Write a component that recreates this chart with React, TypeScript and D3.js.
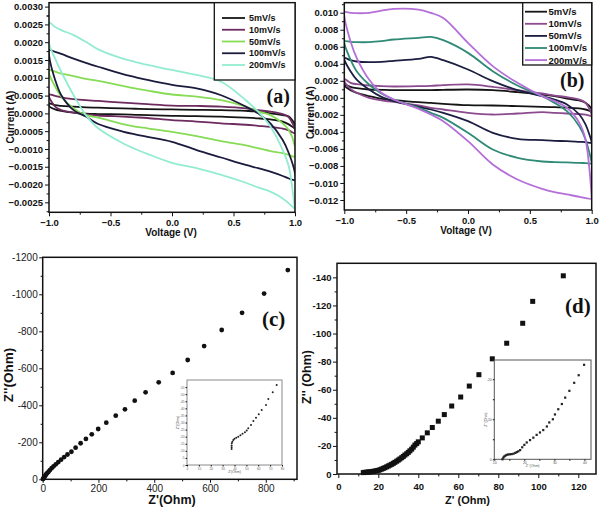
import React, { useEffect, useRef } from "react";
import * as d3 from "d3";

// ---------- data ----------
const scanRates = ["5mV/s", "10mV/s", "50mV/s", "100mV/s", "200mV/s"];
const voltageGrid = [-1, -0.95, -0.9, -0.8, -0.7, -0.6, -0.4, -0.3, -0.2, 0, 0.2, 0.4, 0.6, 0.7, 0.8, 0.9, 0.95, 1];

// panel (a): forward (upper) and reverse (lower) branch currents in A, on voltageGrid
const aFwd5 = [0.00028, 0.00023, 0.00021, 0.00019, 0.00017, 0.00016, 0.00014, 0.00013, 0.00012, 0.00011, 0.0001, 0.00009, 0.00007, 0.00005, 0.0, -0.00005, -0.00009, -0.00033];
const aRev5 = [0.00021, 0.00011, 0.00007, 0.00002, -0.00001, -0.00002, -0.00003, -0.00004, -0.00005, -0.00007, -0.00008, -0.00009, -0.00012, -0.00014, -0.00017, -0.00023, -0.00031, -0.00042];
const aFwd10 = [0.00053, 0.00049, 0.00045, 0.0004, 0.00037, 0.00035, 0.0003, 0.00028, 0.00026, 0.00022, 0.00021, 0.00019, 0.00014, 0.00009, 0.00005, -0.00002, -0.00011, -0.00047];
const aRev10 = [0.00047, 0.00019, 0.00009, 0.00002, -0.00003, -0.00006, -0.00009, -0.00011, -0.00013, -0.00019, -0.00023, -0.00028, -0.00032, -0.00035, -0.00038, -0.00043, -0.00048, -0.00056];
const aFwd50 = [0.00122, 0.00117, 0.00112, 0.00105, 0.00097, 0.00091, 0.00077, 0.0007, 0.00064, 0.00053, 0.00047, 0.00037, 0.00019, 0.00005, -0.00005, -0.00028, -0.00047, -0.00094];
const aRev50 = [0.00112, 0.00075, 0.00047, 0.00014, -0.00005, -0.00012, -0.0003, -0.00037, -0.00042, -0.00052, -0.00064, -0.00078, -0.0009, -0.00098, -0.00106, -0.00112, -0.00117, -0.00122];
const aFwd100 = [0.00178, 0.00173, 0.00167, 0.00154, 0.00142, 0.00131, 0.0011, 0.00102, 0.00094, 0.0008, 0.0007, 0.00051, 0.00019, 0.0, -0.00028, -0.00075, -0.00112, -0.00169];
const aRev100 = [0.00164, 0.00094, 0.00051, 0.00009, -0.00009, -0.0003, -0.00051, -0.00059, -0.00066, -0.0008, -0.00103, -0.00124, -0.00145, -0.00154, -0.00164, -0.00176, -0.00183, -0.00187];
const aFwd200 = [0.00255, 0.00243, 0.00234, 0.0022, 0.00201, 0.0018, 0.00154, 0.00145, 0.00136, 0.00122, 0.00108, 0.00089, 0.00037, 0.00005, -0.00037, -0.00103, -0.0015, -0.00272];
const aRev200 = [0.00197, 0.00154, 0.00117, 0.00051, -0.00005, -0.00042, -0.00084, -0.001, -0.00114, -0.00139, -0.00154, -0.00173, -0.00195, -0.00208, -0.0022, -0.00239, -0.00253, -0.00271];

// panel (b)
const bFwd5 = [0.00157, 0.00129, 0.00114, 0.00098, 0.00094, 0.0009, 0.0009, 0.0009, 0.00094, 0.00098, 0.0009, 0.00067, 0.00039, 0.0002, -0.00008, -0.00031, -0.00059, -0.00137];
const bRev5 = [0.00145, 0.0009, 0.00059, 0.0002, -0.00012, -0.00027, -0.00051, -0.00059, -0.0007, -0.00086, -0.0009, -0.00098, -0.00106, -0.0011, -0.00114, -0.00125, -0.00137, -0.00157];
const bFwd10 = [0.00223, 0.00176, 0.0016, 0.00145, 0.00137, 0.00133, 0.00137, 0.00141, 0.00149, 0.00157, 0.00129, 0.0009, 0.00051, 0.00027, 0.00008, -0.0002, -0.00059, -0.00196];
const bRev10 = [0.00196, 0.00106, 0.00059, 0.0, -0.00031, -0.00047, -0.0009, -0.00117, -0.00137, -0.00176, -0.00196, -0.00184, -0.00168, -0.00176, -0.00184, -0.00192, -0.00196, -0.00215];
const bFwd50 = [0.0047, 0.00442, 0.00427, 0.00419, 0.00423, 0.00434, 0.00458, 0.00481, 0.00442, 0.00333, 0.00196, 0.0009, 0.0002, -0.0002, -0.00078, -0.00196, -0.00313, -0.00521];
const bRev50 = [0.0045, 0.00313, 0.00215, 0.00098, 0.00012, -0.00039, -0.00106, -0.00137, -0.00176, -0.00274, -0.00411, -0.00481, -0.00497, -0.00505, -0.00509, -0.00517, -0.00521, -0.00528];
const bFwd100 = [0.00665, 0.00658, 0.00654, 0.00654, 0.00665, 0.00685, 0.00705, 0.00716, 0.00677, 0.00528, 0.00313, 0.00145, 0.0002, -0.00059, -0.00157, -0.00333, -0.00489, -0.00763];
const bRev100 = [0.00646, 0.0045, 0.00313, 0.00157, 0.00051, -0.0002, -0.00117, -0.00176, -0.00235, -0.00411, -0.00607, -0.00705, -0.00748, -0.00755, -0.00759, -0.00763, -0.00767, -0.00771];
const bFwd200 = [0.01006, 0.00998, 0.00994, 0.00998, 0.01025, 0.01045, 0.01037, 0.00998, 0.00939, 0.00646, 0.00372, 0.00176, 0.0002, -0.00039, -0.00117, -0.00294, -0.00489, -0.01174];
const bRev200 = [0.00959, 0.00665, 0.0047, 0.00215, 0.00059, -0.0002, -0.00129, -0.00196, -0.00274, -0.00509, -0.00783, -0.00959, -0.01069, -0.01108, -0.01135, -0.01162, -0.01178, -0.01186];

// panel (c) Nyquist: Z' and -Z'' (Ohm)
const cZre = [1, 2, 4, 6, 9, 12, 16, 21, 26, 32, 39, 47, 56, 66, 77, 89, 103, 118, 136, 155, 176, 199, 228, 262, 295, 330, 369, 416, 466, 520, 579, 642, 715, 794, 879];
const cZim = [1, 4, 8, 13, 19, 26, 33, 41, 50, 60, 70, 81, 93, 106, 120, 134, 149, 171, 195, 218, 243, 272, 306, 344, 378, 425, 470, 524, 575, 645, 720, 807, 900, 1004, 1131];
const ciZre = [37.6, 37.6, 37.6, 37.7, 38.2, 39, 40, 41.5, 43.2, 45, 46.8, 48.8, 50.3, 51.6, 53.9, 55.9, 58.1, 60.4, 62.9, 66.5, 68.5, 72.2, 75.5];
const ciZim = [11.3, 12.5, 13.8, 15.3, 16.5, 17.6, 18.5, 19.3, 20, 21, 22, 23.1, 24.4, 25.9, 28.3, 31.1, 33.4, 35.8, 38.8, 42.4, 46.6, 51.3, 56.5];

// panel (d)
const dZre = [12.5, 13.3, 14.2, 15, 15.8, 16.7, 17.5, 18.3, 19.2, 20, 20.8, 21.7, 22.5, 23.3, 24.2, 25, 25.8, 26.7, 27.5, 28.3, 29.2, 30, 30.8, 31.7, 32.5, 33.3, 34.2, 35, 35.8, 36.7, 37.5, 38.3, 39.2, 40, 42, 44.5, 47, 50, 53, 56.7, 61.2, 65.5, 70.3, 77, 84.2, 92.2, 97.2, 112.5];
const dZim = [1, 1.2, 1.3, 1.4, 1.55, 1.7, 1.9, 2.1, 2.35, 2.6, 3, 3.5, 4, 4.5, 5.1, 5.7, 6.3, 6.9, 7.6, 8.3, 9.1, 9.9, 10.7, 11.6, 12.5, 13.5, 14.4, 15.4, 16.5, 17.7, 19.1, 20.6, 21.7, 22.9, 25.7, 29.3, 33.1, 37.6, 42.3, 48.4, 54.8, 62.6, 70.7, 82, 93.1, 107.3, 122.9, 141.1];
const diZre = [12.7, 13.0, 13.3, 13.7, 14.1, 14.6, 15.2, 15.8, 16.4, 17, 17.5, 18, 18.6, 19.3, 20, 20.8, 21.9, 23, 24.1, 25.2, 26.3, 27.5, 28.3, 29.5, 30.2, 31.3, 32.5, 33.6, 35, 36.6, 38.1, 39.9];
const diZim = [0, 0.4, 0.7, 0.9, 1.1, 1.2, 1.25, 1.3, 1.4, 1.6, 1.8, 2, 2.3, 3, 3.6, 4.2, 4.8, 5.4, 6.1, 6.7, 7.3, 8.2, 9.2, 10, 11.2, 12.5, 13.8, 15.4, 17.1, 19.1, 21, 23.6];

// tick labels
const vTicks = [-1, -0.5, 0, 0.5, 1];
const aCurrentTicks = [-0.0025, -0.002, -0.0015, -0.001, -0.0005, 0, 0.0005, 0.001, 0.0015, 0.002, 0.0025, 0.003];
const bCurrentTicks = [-0.012, -0.01, -0.008, -0.006, -0.004, -0.002, 0, 0.002, 0.004, 0.006, 0.008, 0.01];
const cReTicks = [0, 200, 400, 600, 800];
const cImTicks = [0, 200, 400, 600, 800, 1000, 1200];
const dReTicks = [0, 20, 40, 60, 80, 100, 120];
const dImTicks = [0, 20, 40, 60, 80, 100, 120, 140];

const colorsA = ["#151515", "#6d2b5f", "#86dc55", "#1b1b3d", "#93ecd2"];
const colorsB = ["#151515", "#8c4b8e", "#1b1e40", "#2f8a76", "#b46fd8"];

const SANS = "'Liberation Sans', Arial, Helvetica, sans-serif";
const SERIF = "'Liberation Serif', 'Times New Roman', serif";

type Box = { l: number; r: number; t: number; b: number };

function styleAxis(g: any, size: number, weight: string, fill = "#111") {
  g.select(".domain").remove();
  g.selectAll("line").attr("stroke", "#111").attr("stroke-width", 1);
  g.selectAll("text").attr("font-family", SANS).attr("font-size", size).attr("font-weight", weight).attr("fill", fill);
}

function drawAxes(root: any, box: Box, x: any, y: any, o: any) {
  const bx = root.append("g").attr("transform", `translate(0,${box.b})`)
    .call(d3.axisBottom(x).tickValues(o.xMajor).tickFormat(o.xFmt).tickSize(o.tick).tickPadding(o.xPad));
  styleAxis(bx, o.size, o.weight, o.fill);
  const bxm = root.append("g").attr("transform", `translate(0,${box.b})`)
    .call(d3.axisBottom(x).tickValues(o.xMinor).tickFormat(() => "").tickSize(o.tick * 0.6));
  styleAxis(bxm, o.size, o.weight);
  const ly = root.append("g").attr("transform", `translate(${box.l},0)`)
    .call(d3.axisLeft(y).tickValues(o.yMajor).tickFormat(o.yFmt).tickSize(o.tick).tickPadding(o.yPad));
  styleAxis(ly, o.size, o.weight, o.fill);
  const lym = root.append("g").attr("transform", `translate(${box.l},0)`)
    .call(d3.axisLeft(y).tickValues(o.yMinor).tickFormat(() => "").tickSize(o.tick * 0.6));
  styleAxis(lym, o.size, o.weight);
  root.append("rect").attr("x", box.l).attr("y", box.t).attr("width", box.r - box.l).attr("height", box.b - box.t)
    .attr("fill", "none").attr("stroke", o.frame || "#111").attr("stroke-width", o.frameW || 1.5);
}

function loop(fwd: number[], rev: number[]) {
  const pts: [number, number][] = voltageGrid.map((v, i) => [v, fwd[i]] as [number, number])
    .concat(voltageGrid.map((v, i) => [v, rev[i]] as [number, number]).reverse());
  return pts.filter((p, i) => i === 0 || p[0] !== pts[i - 1][0] || p[1] !== pts[i - 1][1]);
}

export default function App() {
  const ref = useRef<SVGSVGElement>(null);
  useEffect(() => {
    const svg = d3.select(ref.current);
    svg.selectAll("*").remove();
    svg.append("rect").attr("width", 600).attr("height", 509).attr("fill", "#fff");

    // ---------- CV panels ----------
    const cvPanels = [
      {
        id: "a", box: { l: 49, r: 295, t: 2.7, b: 212.3 }, yDom: [-0.00278, 0.00311], yMajor: aCurrentTicks,
        yMinor: aCurrentTicks.map((v) => v - 0.00025).concat([0.00275]), yFmt: d3.format(".4f"),
        fwd: [aFwd5, aFwd10, aFwd50, aFwd100, aFwd200], rev: [aRev5, aRev10, aRev50, aRev100, aRev200], colors: colorsA,
        legend: { x0: 214.3, y1: 80, y0: 18, step: 11.75, lx0: 222, lx1: 245, tx: 249, fs: 9 },
        label: { x: 266.5, y: 103, fs: 20, t: "(a)" },
        xTitle: { x: 171, y: 235.5 }, yTitle: { x: 14, y: 117 },
      },
      {
        id: "b", box: { l: 344.3, r: 591.7, t: 2.7, b: 210 }, yDom: [-0.013175, 0.011175], yMajor: bCurrentTicks,
        yMinor: bCurrentTicks.map((v) => v + 0.001), yFmt: d3.format(".3f"),
        fwd: [bFwd5, bFwd10, bFwd50, bFwd100, bFwd200], rev: [bRev5, bRev10, bRev50, bRev100, bRev200], colors: colorsB,
        legend: { x0: 522.7, y1: 65, y0: 11.7, step: 12.1, lx0: 525, lx1: 547, tx: 548.5, fs: 9.5 },
        label: { x: 560, y: 87, fs: 20, t: "(b)" },
        xTitle: { x: 466, y: 234 }, yTitle: { x: 314, y: 112.5 },
      },
    ];

    cvPanels.forEach((p) => {
      const g = svg.append("g");
      const x = d3.scaleLinear().domain([-1, 1]).range([p.box.l, p.box.r]);
      const y = d3.scaleLinear().domain(p.yDom).range([p.box.b, p.box.t]);
      const clipId = "clip-" + p.id;
      g.append("clipPath").attr("id", clipId).append("rect")
        .attr("x", p.box.l).attr("y", p.box.t).attr("width", p.box.r - p.box.l).attr("height", p.box.b - p.box.t);
      const line = d3.line<[number, number]>().x((d) => x(d[0])).y((d) => y(d[1]))
        .curve(d3.curveCatmullRomClosed.alpha(0.5));
      const lg = g.append("g").attr("clip-path", `url(#${clipId})`);
      p.fwd.forEach((f, i) => {
        lg.append("path").attr("d", line(loop(f, p.rev[i])) as string).attr("fill", "none")
          .attr("stroke", p.colors[i]).attr("stroke-width", 1.8).attr("stroke-linejoin", "round");
      });
      drawAxes(g, p.box, x, y, {
        xMajor: vTicks, xMinor: [-0.75, -0.25, 0.25, 0.75], xFmt: d3.format(".1f"),
        yMajor: p.yMajor, yMinor: p.yMinor.filter((v: number) => v > p.yDom[0] && v < p.yDom[1]), yFmt: p.yFmt,
        tick: 4, xPad: 3, yPad: 2, size: 9.5, weight: "bold",
      });
      // legend
      const L = p.legend;
      g.append("rect").attr("x", L.x0).attr("y", p.box.t).attr("width", p.box.r - L.x0).attr("height", L.y1 - p.box.t)
        .attr("fill", "#fff").attr("stroke", "#111").attr("stroke-width", 1.3);
      scanRates.forEach((s, i) => {
        const yy = L.y0 + i * L.step;
        g.append("line").attr("x1", L.lx0).attr("x2", L.lx1).attr("y1", yy).attr("y2", yy)
          .attr("stroke", p.colors[i]).attr("stroke-width", 1.8);
        g.append("text").attr("x", L.tx).attr("y", yy).attr("dy", "0.36em").text(s)
          .attr("font-family", SANS).attr("font-size", L.fs).attr("font-weight", "bold").attr("fill", "#111");
      });
      g.append("text").attr("x", p.label.x).attr("y", p.label.y).text(p.label.t)
        .attr("font-family", SERIF).attr("font-size", p.label.fs).attr("font-weight", "bold").attr("fill", "#111");
      g.append("text").attr("x", p.xTitle.x).attr("y", p.xTitle.y).attr("text-anchor", "middle").text("Voltage (V)")
        .attr("font-family", SANS).attr("font-size", 10).attr("font-weight", "bold").attr("fill", "#111");
      g.append("text").attr("transform", `translate(${p.yTitle.x},${p.yTitle.y}) rotate(-90)`).attr("text-anchor", "middle")
        .text("Current (A)").attr("font-family", SANS).attr("font-size", 10).attr("font-weight", "bold").attr("fill", "#111");
    });

    // ---------- panel (c) ----------
    {
      const box = { l: 42.7, r: 297, t: 257.3, b: 479.3 };
      const g = svg.append("g");
      const x = d3.scaleLinear().domain([0, 912]).range([box.l, box.r]);
      const y = d3.scaleLinear().domain([0, 1200]).range([box.b, box.t]);
      const neg = (d: any) => (d === 0 ? "0" : "-" + d);
      drawAxes(g, box, x, y, {
        xMajor: cReTicks, xMinor: [100, 300, 500, 700, 900], xFmt: (d: any) => String(d),
        yMajor: cImTicks, yMinor: [100, 300, 500, 700, 900, 1100], yFmt: neg,
        tick: 3.5, xPad: 2, yPad: 1.5, size: 10, weight: "normal", fill: "#222",
      });
      g.selectAll(null).data(cZre).enter().append("circle")
        .attr("cx", (d) => x(d)).attr("cy", (_d, i) => y(cZim[i])).attr("r", 2.4).attr("fill", "#111");
      // inset
      const ib = { l: 187, r: 282, t: 380, b: 465 };
      const xi = d3.scaleLinear().domain([0, 80]).range([ib.l, ib.r]);
      const yi = d3.scaleLinear().domain([0, 60]).range([ib.b, ib.t]);
      g.append("rect").attr("x", ib.l).attr("y", ib.t).attr("width", ib.r - ib.l).attr("height", ib.b - ib.t)
        .attr("fill", "#fff").attr("stroke", "#8a8a8a").attr("stroke-width", 1);
      const ixa = g.append("g").attr("transform", `translate(0,${ib.b})`)
        .call(d3.axisBottom(xi).tickValues(d3.range(0, 81, 10)).tickSize(1.5).tickPadding(1).tickFormat((d: any) => String(d)));
      styleAxis(ixa, 3.2, "normal", "#666");
      const iya = g.append("g").attr("transform", `translate(${ib.l},0)`)
        .call(d3.axisLeft(yi).tickValues(d3.range(0, 56, 5)).tickSize(1.5).tickPadding(1).tickFormat((d: any) => (d === 0 ? "0" : "-" + d)));
      styleAxis(iya, 3.2, "normal", "#666");
      g.selectAll(".ci").data(ciZre).enter().append("circle")
        .attr("cx", (d) => xi(d)).attr("cy", (_d, i) => yi(ciZim[i])).attr("r", 1).attr("fill", "#222");
      g.append("text").attr("x", (ib.l + ib.r) / 2).attr("y", ib.b + 8).attr("text-anchor", "middle").text("Z'(Ohm)")
        .attr("font-family", SANS).attr("font-size", 3.5).attr("fill", "#555");
      g.append("text").attr("transform", `translate(${ib.l - 8},${(ib.t + ib.b) / 2}) rotate(-90)`).attr("text-anchor", "middle")
        .text("Z''(Ohm)").attr("font-family", SANS).attr("font-size", 3.5).attr("fill", "#555");
      g.append("text").attr("x", 262).attr("y", 326).text("(c)")
        .attr("font-family", SERIF).attr("font-size", 21).attr("font-weight", "bold").attr("fill", "#111");
      g.append("text").attr("x", 172).attr("y", 504).attr("text-anchor", "middle").text("Z'(Ohm)")
        .attr("font-family", SANS).attr("font-size", 12.5).attr("font-weight", "bold").attr("fill", "#111");
      g.append("text").attr("transform", `translate(13,375) rotate(-90)`).attr("text-anchor", "middle")
        .text("Z''(Ohm)").attr("font-family", SANS).attr("font-size", 13.5).attr("font-weight", "bold").attr("fill", "#111");
    }

    // ---------- panel (d) ----------
    {
      const box = { l: 337, r: 596, t: 263.3, b: 474 };
      const g = svg.append("g");
      const x = d3.scaleLinear().domain([-0.65, 128.85]).range([box.l, box.r]);
      const y = d3.scaleLinear().domain([0, 150]).range([box.b, box.t]);
      const neg = (d: any) => (d === 0 ? "0" : "-" + d);
      drawAxes(g, box, x, y, {
        xMajor: dReTicks, xMinor: [10, 30, 50, 70, 90, 110], xFmt: (d: any) => String(d),
        yMajor: dImTicks, yMinor: [10, 30, 50, 70, 90, 110, 130], yFmt: neg,
        tick: 4, xPad: 5, yPad: 1.5, size: 9.5, weight: "bold",
      });
      g.selectAll(null).data(dZre).enter().append("rect")
        .attr("x", (d) => x(d) - 2.5).attr("y", (_d, i) => y(dZim[i]) - 2.5).attr("width", 5).attr("height", 5).attr("fill", "#111");
      // inset
      const ib = { l: 494.3, r: 591, t: 360, b: 459.3 };
      const xi = d3.scaleLinear().domain([10, 42.2]).range([ib.l, ib.r]);
      const yi = d3.scaleLinear().domain([0, 24.8]).range([ib.b, ib.t]);
      g.append("rect").attr("x", ib.l).attr("y", ib.t).attr("width", ib.r - ib.l).attr("height", ib.b - ib.t)
        .attr("fill", "#fff").attr("stroke", "#555").attr("stroke-width", 1);
      const ixa = g.append("g").attr("transform", `translate(0,${ib.b})`)
        .call(d3.axisBottom(xi).tickValues([10, 15, 20, 25, 30, 35, 40]).tickSize(1.5).tickPadding(1)
          .tickFormat((d: any) => (d % 10 === 0 ? String(d) : "")));
      styleAxis(ixa, 3.5, "normal", "#555");
      const iya = g.append("g").attr("transform", `translate(${ib.l},0)`)
        .call(d3.axisLeft(yi).tickValues([0, 5, 10, 15, 20]).tickSize(1.5).tickPadding(1)
          .tickFormat((d: any) => (d === 0 ? "0" : d % 10 === 0 ? "-" + d : "")));
      styleAxis(iya, 3.5, "normal", "#555");
      g.selectAll(".di").data(diZre).enter().append("rect")
        .attr("x", (d) => xi(d) - 1.1).attr("y", (_d, i) => yi(diZim[i]) - 1.1).attr("width", 2.2).attr("height", 2.2).attr("fill", "#222");
      g.append("text").attr("x", (ib.l + ib.r) / 2 - 10).attr("y", ib.b + 8).attr("text-anchor", "middle").text("Z' (Ohm)")
        .attr("font-family", SANS).attr("font-size", 3.5).attr("fill", "#555");
      g.append("text").attr("transform", `translate(${ib.l - 7},${(ib.t + ib.b) / 2 + 10}) rotate(-90)`).attr("text-anchor", "middle")
        .text("Z'' (Ohm)").attr("font-family", SANS).attr("font-size", 3.5).attr("fill", "#555");
      g.append("text").attr("x", 565).attr("y", 313).text("(d)")
        .attr("font-family", SERIF).attr("font-size", 21).attr("font-weight", "bold").attr("fill", "#111");
      g.append("text").attr("x", 467.5).attr("y", 504).attr("text-anchor", "middle").text("Z' (Ohm)")
        .attr("font-family", SANS).attr("font-size", 11).attr("font-weight", "bold").attr("fill", "#111");
      g.append("text").attr("transform", `translate(311,377) rotate(-90)`).attr("text-anchor", "middle")
        .text("Z'' (Ohm)").attr("font-family", SANS).attr("font-size", 12.5).attr("font-weight", "bold").attr("fill", "#111");
    }
  }, []);
  return (
    <svg ref={ref} width={600} height={509} style={{ position: "absolute", left: 0, top: 0, display: "block" }} />
  );
}
